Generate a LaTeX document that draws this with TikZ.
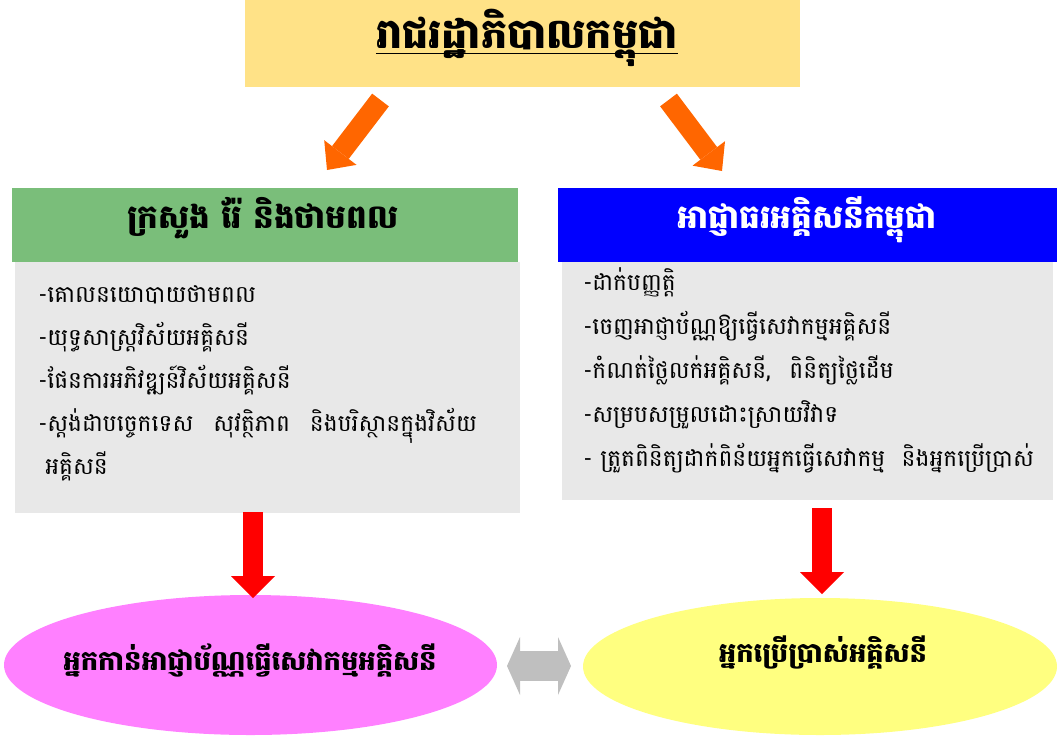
\documentclass[tikz,border=0pt]{standalone}
\usepackage{fontspec}
\usetikzlibrary{arrows.meta,shapes.geometric}
\newfontfamily\khm[Script=Khmer]{Battambang}
\definecolor{titlefill}{RGB}{255,226,135}
\definecolor{mmegreen}{RGB}{122,190,122}
\definecolor{bodygrey}{RGB}{232,232,232}
\definecolor{eacblue}{RGB}{0,0,255}
\definecolor{arroworange}{RGB}{255,102,0}
\definecolor{arrowred}{RGB}{255,0,0}
\definecolor{arrowgrey}{RGB}{191,191,191}
\definecolor{pinkfill}{RGB}{255,128,255}
\definecolor{yellowfill}{RGB}{255,255,128}
\begin{document}
\begin{tikzpicture}[x=0.75pt,y=-0.75pt,
  panel/.style={rectangle,inner sep=0pt,draw=none},
  oval/.style={ellipse,inner sep=0pt,draw=none},
  ttltext/.style={inner sep=0pt,anchor=base,font=\khm\bfseries\fontsize{31}{36}\selectfont},
  headtext/.style={inner sep=0pt,anchor=base,font=\khm\bfseries\fontsize{24.5}{28}\selectfont},
  ovaltext/.style={inner sep=0pt,anchor=base,font=\khm\bfseries\fontsize{20.5}{24}\selectfont},
  listtext/.style={inner sep=0pt,anchor=base west,font=\khm\fontsize{17.5}{21}\selectfont},
  orangearrow/.style={draw=arroworange,line width=15.75pt,line cap=butt,
    -{Triangle[width=30.5pt,length=16.5pt,line width=0pt]}},
  redarrow/.style={draw=arrowred,line width=14.5pt,line cap=butt,
    -{Triangle[width=33pt,length=16.5pt,line width=0pt]}},
  greyarrow/.style={draw=arrowgrey,line width=22.5pt,line cap=butt,
    {Triangle[width=43.5pt,length=9.75pt,line width=0pt]}-{Triangle[width=43.5pt,length=9.75pt,line width=0pt]}}
]
\useasboundingbox (0,0) rectangle (1057,740);

% title
\node[panel,fill=titlefill,minimum width=555*0.75pt,minimum height=87*0.75pt] (title) at (522.5,43.5) {};
\node[ttltext] (titletext) at (527,48) {រាជរដ្ឋាភិបាលកម្ពុជា};
\draw[line width=1pt] ([yshift=-4pt]titletext.base west) -- ([yshift=-4pt]titletext.base east);

% left column
\node[panel,fill=mmegreen,minimum width=506*0.75pt,minimum height=74*0.75pt] (mmehead) at (265,225) {};
\node[headtext] (mmetext) at (263,228) {ក្រសួង រ៉ែ និងថាមពល};
\node[panel,fill=bodygrey,minimum width=505*0.75pt,minimum height=251*0.75pt] (mmebody) at (267.5,387.5) {};
\node[listtext] (l1) at (38,302) {-គោលនយោបាយថាមពល};
\node[listtext] (l2) at (38,345) {-យុទ្ធសាស្ត្រវិស័យអគ្គិសនី};
\node[listtext] (l3) at (38,388) {-ផែនការអភិវឌ្ឍន៍វិស័យអគ្គិសនី};
\node[listtext] (l4) at (38,431) {\hbox to 329pt{-ស្តង់ដាបច្ចេកទេស\hfill សុវត្ថិភាព\hfill និងបរិស្ថានក្នុងវិស័យ}};
\node[listtext] (l5) at (45,474) {អគ្គិសនី};

% right column
\node[panel,fill=eacblue,minimum width=499*0.75pt,minimum height=74*0.75pt] (eachead) at (807.5,225) {};
\node[headtext,text=white] (eactext) at (807,228) {អាជ្ញាធរអគ្គិសនីកម្ពុជា};
\node[panel,fill=bodygrey,minimum width=491*0.75pt,minimum height=238*0.75pt] (eacbody) at (807.5,381) {};
\node[listtext] (r1) at (583,290) {-ដាក់បញ្ញត្តិ};
\node[listtext] (r2) at (583,334) {-ចេញអាជ្ញាប័ណ្ណឱ្យធ្វើសេវាកម្មអគ្គិសនី};
\node[listtext] (r3) at (583,378) {-កំណត់ថ្លៃលក់អគ្គិសនី,\hspace{14pt}ពិនិត្យថ្លៃដើម};
\node[listtext] (r4) at (583,422) {-សម្របសម្រួលដោះស្រាយវិវាទ};
\node[listtext] (r5) at (583,466) {\hbox to 338pt{- ត្រួតពិនិត្យដាក់ពិន័យអ្នកធ្វើសេវាកម្ម\hfill និងអ្នកប្រើប្រាស់}};

% ellipses
\node[oval,fill=pinkfill,minimum width=493*0.75pt,minimum height=140*0.75pt] (licensee) at (250.5,665) {};
\node[ovaltext] (licensetext) at (250,670) {អ្នកកាន់អាជ្ញាប័ណ្ណធ្វើសេវាកម្មអគ្គិសនី};
\node[oval,fill=yellowfill,minimum width=474*0.75pt,minimum height=137*0.75pt] (consumer) at (820,666.5) {};
\node[ovaltext] (consumertext) at (823,662) {អ្នកប្រើប្រាស់អគ្គិសនី};

% arrows
\coordinate (oa1) at (380.5,100);
\coordinate (oa2) at (327,170);
\coordinate (ob1) at (668.5,100);
\coordinate (ob2) at (722,171);
\draw[orangearrow] (oa1) -- (oa2);
\draw[orangearrow] (ob1) -- (ob2);
\coordinate (ra1) at (253,512);
\coordinate (ra2) at (253,598);
\coordinate (rb1) at (822,508);
\coordinate (rb2) at (822,594);
\draw[redarrow] (ra1) -- (ra2);
\draw[redarrow] (rb1) -- (rb2);
\coordinate (ga1) at (507,666);
\coordinate (ga2) at (571,666);
\draw[greyarrow] (ga1) -- (ga2);
\end{tikzpicture}
\end{document}
